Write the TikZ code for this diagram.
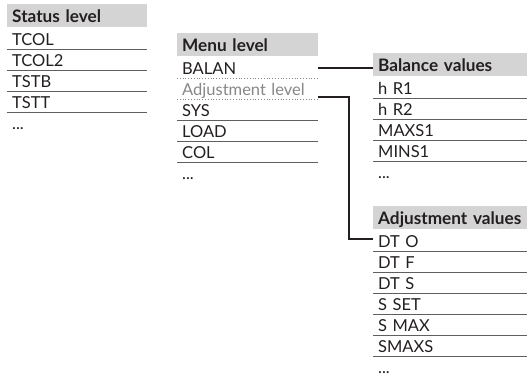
\documentclass[tikz,border=0pt]{standalone}
\usepackage{fontspec}
\setmainfont{Lato}
\usetikzlibrary{calc}
\definecolor{hdrgray}{RGB}{212,212,212}
\definecolor{txt}{RGB}{35,31,32}
\definecolor{sepcol}{RGB}{95,95,95}
\definecolor{dimtxt}{RGB}{135,135,135}
\begin{document}
\begin{tikzpicture}[x=1pt,y=-1pt,
  hdr/.style={anchor=north west, fill=hdrgray, inner xsep=5pt, inner ysep=0pt,
    minimum height=23pt, text height=14pt, text depth=1pt, align=left,
    font=\fontsize{17.2}{19}\selectfont\bfseries, text=txt},
  row/.style={anchor=north west, inner xsep=5pt, inner ysep=0pt,
    minimum height=21pt, text height=14pt, text depth=1pt, align=left,
    font=\fontsize{16.5}{18}\selectfont, text=txt},
  sepline/.style={draw=sepcol, line width=0.9pt},
  dotline/.style={draw=dimtxt, line width=0.8pt, dotted},
  conn/.style={draw=txt, line width=2pt}]
\useasboundingbox (0,0) rectangle (531,376);

% Status level
\node[hdr, text width=130pt] (sh) at (7,4) {\mbox{Status level}};
\foreach \t [count=\i] in {TCOL,TCOL2,TSTB,TSTT}{
  \node[row, text width=130pt] (s\i) at (7,{28+21*(\i-1)}) {\t};
  \draw[sepline] (s\i.south west) -- (s\i.south east);
}
\node[row, text width=130pt] (s5) at (7,112) {...};

% Menu level
\node[hdr, text width=131pt] (mh) at (177,33) {\mbox{Menu level}};
\node[row, text width=131pt] (m1) at (177,57) {BALAN};
\draw[dotline] (m1.south west) -- (m1.south east);
\node[row, text width=131pt, text=dimtxt] (m2) at (177,78) {\mbox{Adjustment level}};
\draw[dotline] (m2.south west) -- (m2.south east);
\foreach \t [count=\i from 3] in {SYS,LOAD,COL}{
  \node[row, text width=131pt] (m\i) at (177,{99+21*(\i-3)}) {\t};
  \draw[sepline] (m\i.south west) -- (m\i.south east);
}
\node[row, text width=131pt] (m6) at (177,162) {...};

% Balance values
\node[hdr, text width=144pt] (bh) at (373,53) {\mbox{Balance values}};
\foreach \t [count=\i] in {h R1,h R2,MAXS1,MINS1}{
  \node[row, text width=144pt] (b\i) at (373,{77+21*(\i-1)}) {\t};
  \draw[sepline] (b\i.south west) -- (b\i.south east);
}
\node[row, text width=144pt] (b5) at (373,161) {...};

% Adjustment values
\node[hdr, text width=144pt] (ah) at (373,206) {\mbox{Adjustment values}};
\foreach \t [count=\i] in {DT O,DT F,DT S,S SET,S MAX,SMAXS}{
  \node[row, text width=144pt] (a\i) at (373,{230+21*(\i-1)}) {\t};
  \draw[sepline] (a\i.south west) -- (a\i.south east);
}
\node[row, text width=144pt] (a7) at (373,356) {...};

% connectors
\draw[conn] (m1.east) -- (m1.east -| bh.west);
\coordinate (c2) at ($(m2.south east)+(0,-2.5)$);
\draw[conn] (c2) -| ($(a1.west)+(-24,-2)$) -- ($(a1.west)+(0,-2)$);
\end{tikzpicture}
\end{document}
